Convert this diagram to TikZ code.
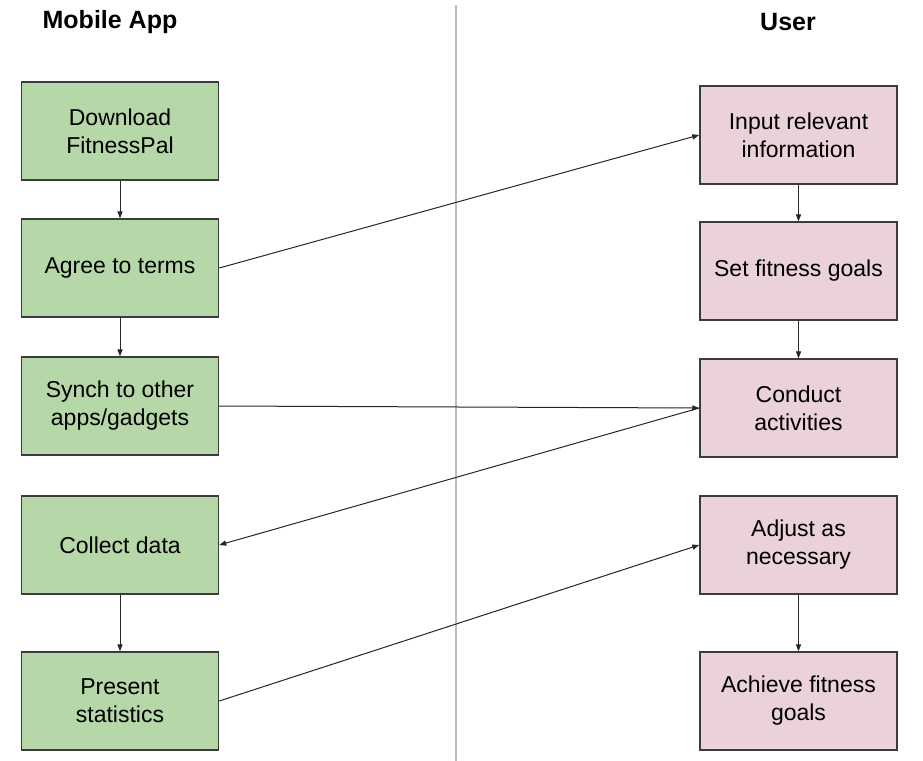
\documentclass[tikz,border=0pt]{standalone}
\usepackage{fontspec}
\setmainfont{Liberation Sans}
\usetikzlibrary{arrows.meta,positioning}
\definecolor{appCol}{HTML}{B6D7A8}
\definecolor{usrCol}{HTML}{EAD1DC}
\definecolor{edgeCol}{HTML}{3C3C3C}
\definecolor{divCol}{HTML}{BDBDBD}
\tikzset{
  stage/.style={draw=edgeCol, line width=0.75pt, minimum width=98.5pt, minimum height=49pt,
                inner sep=0pt, align=center, font=\fontsize{11.5}{14}\selectfont},
  colhead/.style={font=\fontsize{12.5}{15}\selectfont\bfseries},
  flow/.style={-{Triangle[length=3.5pt,width=2.6pt]}, line width=0.5pt, black!85}, % step / hand-over
}

\begin{document}
\begin{tikzpicture}[x=0.5pt,y=-0.5pt]
  \useasboundingbox (0,0) rectangle (923,761);
  \def\A{120}\def\U{798.5}
  \node[colhead] (hApp) at (110,22) {Mobile App};
  \node[colhead] (hUsr) at (788,22) {User};
  \coordinate (divTop) at (456,5);
  \coordinate (divBot) at (456,761);
  \draw[divCol, line width=0.7pt] (divTop) -- (divBot);

  % mobile app column
  \node[stage, fill=appCol] (dl)      at (\A,131) {Download\\FitnessPal};
  \node[stage, fill=appCol] (agree)   at (\A,268) {Agree to terms};
  \node[stage, fill=appCol] (synch)   at (\A,406) {Synch to other\\apps/gadgets};
  \node[stage, fill=appCol] (collect) at (\A,545) {Collect data};
  \node[stage, fill=appCol] (present) at (\A,701) {Present\\statistics};

  % user column
  \node[stage, fill=usrCol] (input)   at (\U,135) {Input relevant\\information};
  \node[stage, fill=usrCol] (goals)   at (\U,271) {Set fitness goals};
  \node[stage, fill=usrCol] (conduct) at (\U,408) {Conduct\\activities};
  \node[stage, fill=usrCol] (adjust)  at (\U,545) {Adjust as\\necessary};
  \node[stage, fill=usrCol] (achieve) at (\U,701) {Achieve fitness\\goals};

  \foreach \a/\b in {dl/agree, agree/synch, collect/present, input/goals, goals/conduct, adjust/achieve}
    \draw[flow] (\a) -- (\b);

  \draw[flow] (agree.east) -- (input.west);
  \draw[flow] (synch.east) -- (conduct.west);
  \draw[flow] (conduct.west) -- (collect.east);
  \draw[flow] (present.east) -- (adjust.west);
\end{tikzpicture}
\end{document}
